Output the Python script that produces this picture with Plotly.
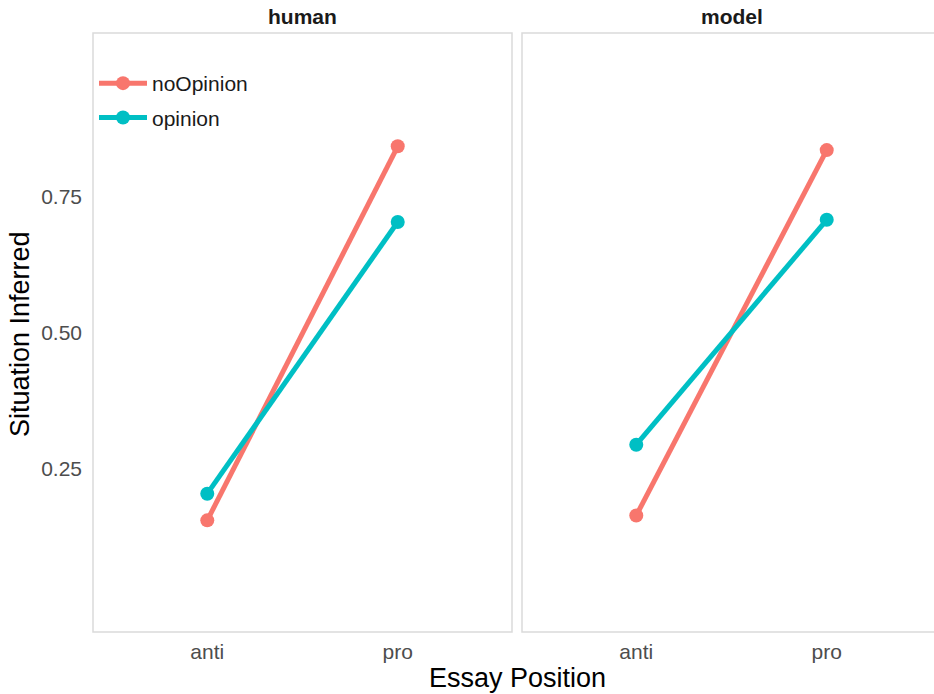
import plotly.graph_objects as go

# Mean proportion of situational inferences, by essay position
positions = ["anti", "pro"]
panels = ["human", "model"]
conditions = ["noOpinion", "opinion"]
values = {
    "human": {"noOpinion": [0.155, 0.842], "opinion": [0.204, 0.703]},
    "model": {"noOpinion": [0.164, 0.835], "opinion": [0.294, 0.707]},
}
y_ticks = [0.25, 0.50, 0.75]
y_tick_text = ["0.25", "0.50", "0.75"]

colors = {"noOpinion": "#F8766D", "opinion": "#00BFC4"}

W, H = 934, 694
FONT = "Liberation Sans, Arial, sans-serif"

# panel geometry in pixels (left, right, top, bottom)
px_panels = {"human": (93, 512), "model": (522, 941)}
p_top, p_bottom = 33, 632

fig = go.Figure()

for i, panel in enumerate(panels):
    xa = "x" if i == 0 else "x2"
    ya = "y" if i == 0 else "y2"
    for cond in conditions:
        fig.add_trace(go.Scatter(
            x=positions, y=values[panel][cond],
            mode="lines+markers",
            name=cond,
            legendgroup=cond,
            showlegend=(i == 0),
            line=dict(color=colors[cond], width=5),
            marker=dict(color=colors[cond], size=14),
            xaxis=xa, yaxis=ya,
        ))

y_dom = [1 - p_bottom / H, 1 - p_top / H]
per_unit = (px_panels["human"][1] - px_panels["human"][0]) / 2.2

axis_common = dict(
    showgrid=False, zeroline=False, showline=False,
    ticks="", tickfont=dict(family=FONT, size=21, color="#4D4D4D"),
)

for i, panel in enumerate(panels):
    l, r = px_panels[panel]
    r_vis = min(r, W)
    dom = [l / W, r_vis / W]
    x_hi = 1.6 - (r - r_vis) / per_unit
    key = "xaxis" if i == 0 else "xaxis2"
    fig.layout[key] = dict(
        domain=dom, range=[-0.6, x_hi], type="category",
        categoryorder="array", categoryarray=positions,
        anchor="y" if i == 0 else "y2",
        ticklabelstandoff=5, **axis_common,
    )
    ykey = "yaxis" if i == 0 else "yaxis2"
    fig.layout[ykey] = dict(
        domain=y_dom, range=[-0.05, 1.05],
        tickvals=y_ticks, ticktext=y_tick_text,
        showticklabels=(i == 0),
        anchor="x" if i == 0 else "x2",
        ticklabelstandoff=10, **axis_common,
    )
    # panel border
    fig.add_shape(type="rect", xref="paper", yref="paper",
                  x0=l / W, x1=r / W, y0=y_dom[0], y1=y_dom[1],
                  line=dict(color="#DADADA", width=1.5), layer="below")
    # facet strip label
    fig.add_annotation(text="<b>%s</b>" % panel, xref="paper", yref="paper",
                       x=(l + r) / 2 / W, y=1 - 17 / H,
                       xanchor="center", yanchor="middle", showarrow=False,
                       font=dict(family=FONT, size=21, color="#1A1A1A"))

fig.add_annotation(text="Situation Inferred", xref="paper", yref="paper",
                   x=20 / W, y=1 - 334 / H, textangle=-90,
                   xanchor="center", yanchor="middle", showarrow=False,
                   font=dict(family=FONT, size=27, color="black"))
fig.add_annotation(text="Essay Position", xref="paper", yref="paper",
                   x=517 / W, y=1 - 678 / H,
                   xanchor="center", yanchor="middle", showarrow=False,
                   font=dict(family=FONT, size=27, color="black"))

fig.update_layout(
    width=W, height=H,
    margin=dict(l=0, r=0, t=0, b=0),
    paper_bgcolor="white", plot_bgcolor="white",
    legend=dict(
        x=94 / W, y=1 - 63 / H, xanchor="left", yanchor="top",
        bgcolor="rgba(0,0,0,0)", tracegroupgap=4, itemwidth=48,
        font=dict(family=FONT, size=21, color="#1A1A1A"),
    ),
)

fig.write_html("out.html")
